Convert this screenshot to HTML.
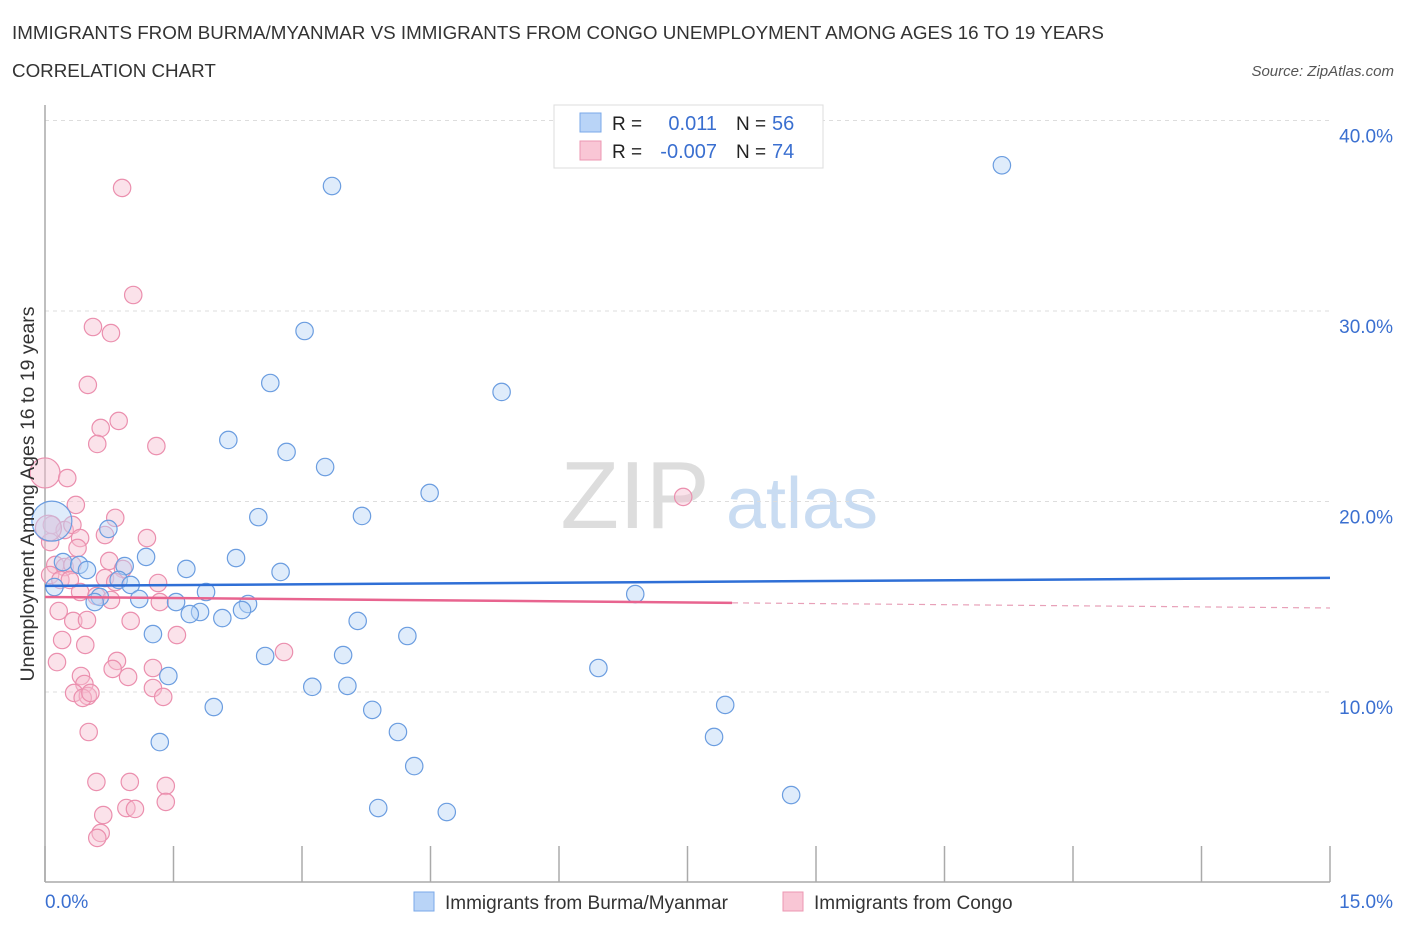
<!DOCTYPE html>
<html><head><meta charset="utf-8"><style>
body{margin:0;background:#fff;font-family:"Liberation Sans",sans-serif;}
svg text{font-family:"Liberation Sans",sans-serif;}
</style></head><body>
<svg id="chart" width="1406" height="930" xmlns="http://www.w3.org/2000/svg">
<text x="12" y="39" font-size="18.8" fill="#333">IMMIGRANTS FROM BURMA/MYANMAR VS IMMIGRANTS FROM CONGO UNEMPLOYMENT AMONG AGES 16 TO 19 YEARS</text>
<text x="12" y="77" font-size="18.8" fill="#333">CORRELATION CHART</text>
<text x="1394" y="76" font-size="15" fill="#555" font-style="italic" text-anchor="end">Source: ZipAtlas.com</text>
<text x="635" y="528" font-size="96" fill="#ddd" font-family="Liberation Serif" text-anchor="middle">ZIP</text>
<text x="802" y="528" font-size="72" fill="#c9dcf2" text-anchor="middle">atlas</text>
<g id="grid"></g>
<g id="axes"></g>
<g id="pts"></g>
<g id="trend"></g>
<text transform="translate(34,494) rotate(-90)" font-size="19.5" fill="#333" text-anchor="middle">Unemployment Among Ages 16 to 19 years</text>
<g>
<rect x="554" y="105" width="269" height="63" fill="#fff" stroke="#ddd"/>
<rect x="580" y="113" width="21" height="19" fill="#b9d4f7" stroke="#7aa8e8"/>
<rect x="580" y="141" width="21" height="19" fill="#f9c6d5" stroke="#ec97b2"/>
<text x="612" y="130" font-size="19" fill="#222">R =</text>
<text x="717" y="130" font-size="20" fill="#3a6fd0" text-anchor="end">0.011</text>
<text x="736" y="130" font-size="19" fill="#222">N =</text>
<text x="772" y="130" font-size="20" fill="#3a6fd0">56</text>
<text x="612" y="158" font-size="19" fill="#222">R =</text>
<text x="717" y="158" font-size="20" fill="#3a6fd0" text-anchor="end">-0.007</text>
<text x="736" y="158" font-size="19" fill="#222">N =</text>
<text x="772" y="158" font-size="20" fill="#3a6fd0">74</text>
</g>
<g>
<rect x="414" y="892" width="20" height="19" fill="#b9d4f7" stroke="#7aa8e8"/>
<text x="445" y="909" font-size="19" fill="#333">Immigrants from Burma/Myanmar</text>
<rect x="783" y="892" width="20" height="19" fill="#f9c6d5" stroke="#ec97b2"/>
<text x="814" y="909" font-size="19" fill="#333">Immigrants from Congo</text>
</g>
</svg>
<script>
const yTicks=[10,20,30,40];
const xTickLabels=["0.0%","15.0%"];
const blueX=[11.17,3.35,3.03,2.63,5.33,2.14,2.82,3.27,4.49,3.70,2.49,0.74,1.18,2.23,0.21,0.40,0.49,0.93,1.65,2.75,0.86,1.00,0.11,1.88,0.64,1.10,0.58,1.53,2.37,6.89,2.30,1.81,1.69,2.07,3.65,1.26,4.23,3.48,2.57,6.46,1.44,3.12,3.53,1.97,7.94,3.82,4.12,1.34,7.81,4.31,8.71,3.89,4.69,0.08];
const blueY=[37.65,36.56,28.95,26.22,25.75,23.23,22.60,21.81,20.45,19.24,19.18,18.56,17.09,17.03,16.82,16.67,16.40,16.61,16.46,16.30,15.88,15.62,15.51,15.25,14.99,14.88,14.72,14.72,14.62,15.14,14.30,14.20,14.09,13.88,13.73,13.04,12.94,11.94,11.89,11.26,10.84,10.27,10.32,9.21,9.32,9.06,7.90,7.37,7.64,6.11,4.59,3.91,3.70,18.97];
const pinkX=[0.90,1.03,0.56,0.77,0.50,0.86,0.65,0.61,1.30,7.45,0.0,0.26,0.36,0.82,0.08,0.23,0.32,0.06,0.41,0.70,1.19,0.38,0.75,0.12,0.23,0.32,0.91,0.06,0.18,0.29,0.70,0.82,1.32,0.41,0.60,0.77,1.34,0.16,0.33,0.49,1.00,1.54,0.20,0.47,2.79,0.84,0.14,0.79,1.26,0.97,0.42,0.46,1.26,1.38,0.34,0.50,0.44,0.53,0.51,0.60,0.99,1.41,0.68,0.95,1.05,1.41,0.65,0.61,0.04];
const pinkY=[36.46,30.84,29.16,28.84,26.12,24.23,23.86,23.02,22.91,20.24,21.50,21.23,19.82,19.14,18.77,18.50,18.77,17.87,18.08,18.24,18.08,17.56,16.88,16.67,16.56,16.67,16.46,16.14,15.88,15.88,15.98,15.77,15.72,15.25,15.04,14.83,14.72,14.25,13.73,13.78,13.73,12.99,12.73,12.47,12.10,11.63,11.57,11.21,11.26,10.79,10.84,10.42,10.21,9.74,9.95,9.79,9.69,9.95,7.90,5.28,5.28,5.07,3.54,3.91,3.86,4.23,2.60,2.34,18.6];
const blueTrend=[15.57,15.99];
const pinkTrend=[14.99,14.41];
const pinkSolidEnd=8.02;
const NS="http://www.w3.org/2000/svg";
const X=v=>45+v/15*1285;
const Y=v=>882.5-v*19.05;
function mk(tag,attrs,parent){const e=document.createElementNS(NS,tag);for(const k in attrs)e.setAttribute(k,attrs[k]);document.getElementById(parent).appendChild(e);return e;}
yTicks.forEach(t=>{
 const g=mk('line',{x1:45,x2:1330,y1:Y(t),y2:Y(t),stroke:'#ddd','stroke-dasharray':'4,4'},'grid');
 
 
 const l=mk('text',{x:1393,y:Y(t)+22,'font-size':19,fill:'#3a6fd0','text-anchor':'end'},'grid');
 l.textContent=t.toFixed(1)+'%';
 
 
});
let ax=mk('line',{x1:45,x2:45,y1:105,y2:882,stroke:'#aaa','stroke-width':1.5},'axes');


ax=mk('line',{x1:45,x2:1330,y1:882,y2:882,stroke:'#aaa','stroke-width':1.5},'axes');


for(let i=0;i<=10;i++){const t=mk('line',{x1:X(i*1.5),x2:X(i*1.5),y1:846,y2:882,stroke:'#aaa','stroke-width':1.5},'axes');
 
 }
[[0,'start',45],[15,'end',1393]].forEach((d,i)=>{const t=mk('text',{x:d[2],y:908,'font-size':19,fill:'#3a6fd0','text-anchor':d[1]},'axes');t.textContent=xTickLabels[i];
 
 });
function dot(x,y,r,fill,stroke,name){const c=mk('circle',{cx:X(x),cy:Y(y),r:r,fill:fill,'fill-opacity':0.45,stroke:stroke,'stroke-width':1.2},'pts');
 
 }
pinkX.forEach((x,i)=>dot(x,pinkY[i],(i==10?15:(i==pinkX.length-1?13:8.7)),'#f7bfd0','#eb8fae','congo-point'));
blueX.forEach((x,i)=>dot(x,blueY[i],(i==blueX.length-1?20:8.7),'#b9d4f7','#6b9de0','burma-point'));
let t=mk('line',{x1:X(0),x2:X(15),y1:Y(blueTrend[0]),y2:Y(blueTrend[1]),stroke:'#2f6fd6','stroke-width':2.5},'trend');


const pm=pinkTrend[0]+(pinkTrend[1]-pinkTrend[0])*pinkSolidEnd/15;
t=mk('line',{x1:X(0),x2:X(pinkSolidEnd),y1:Y(pinkTrend[0]),y2:Y(pm),stroke:'#e8648f','stroke-width':2.5},'trend');


t=mk('line',{x1:X(pinkSolidEnd),x2:X(15),y1:Y(pm),y2:Y(pinkTrend[1]),stroke:'#e8a0b8','stroke-width':1.2,'stroke-dasharray':'6,5'},'trend');


</script>
</body></html>
